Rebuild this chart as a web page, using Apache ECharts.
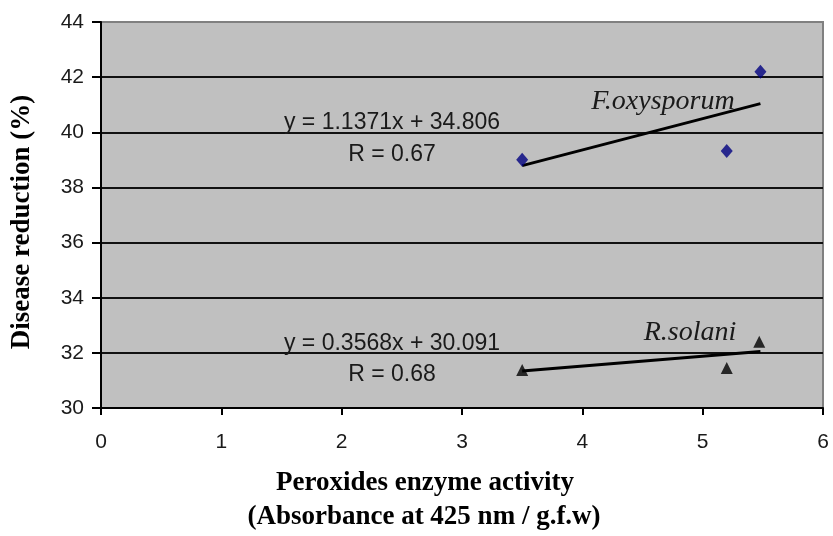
<!DOCTYPE html>
<html>
<head>
<meta charset="utf-8">
<script src="https://cdn.jsdelivr.net/npm/echarts@6/dist/echarts.min.js"></script>
<style>html,body{margin:0;padding:0;background:#fff}#c{width:833px;height:536px}</style>
</head>
<body>
<div id="c"></div>
<script>
// Data
const foxX = [3.5, 5.2, 5.48];
const foxY = [39.0, 39.32, 42.2];
const rsolX = [3.5, 5.2, 5.47];
const rsolY = [31.38, 31.45, 32.4];
// trend line endpoints (from equations y = 1.1371x + 34.806 and y = 0.3568x + 30.091)
const foxTrendX = [3.5, 5.48];
const foxTrendY = [38.79, 41.04];
const rsolTrendX = [3.5, 5.48];
const rsolTrendY = [31.34, 32.05];
const xTicks = [0, 1, 2, 3, 4, 5, 6];
const yTicks = [30, 32, 34, 36, 38, 40, 42, 44];
const eqFox = 'y = 1.1371x + 34.806';
const rFox = 'R = 0.67';
const eqRsol = 'y = 0.3568x + 30.091';
const rRsol = 'R = 0.68';
const nameFox = 'F.oxysporum';
const nameRsol = 'R.solani';
const xTitle1 = 'Peroxides enzyme activity';
const xTitle2 = '(Absorbance at 425 nm / g.f.w)';
const yTitle = 'Disease reduction (%)';

const zip = (a, b) => a.map((v, i) => [v, b[i]]);
const chart = echarts.init(document.getElementById('c'), null, {renderer: 'canvas'});
const sans = 'Liberation Sans, Arial, sans-serif';
const serif = 'Liberation Serif, Times New Roman, serif';
const txtStyle = (t, x, y, size, extra) => ({
  type: 'text', x: x, y: y, z: 100,
  style: Object.assign({text: t, fontFamily: sans, fontSize: size, fill: '#1a1a1a', textAlign: 'center', textVerticalAlign: 'middle'}, extra || {})
});

chart.setOption({
  animation: false,
  grid: {left: 101, right: 10, top: 22, bottom: 128, show: true, backgroundColor: '#c0c0c0', borderColor: '#808080', borderWidth: 2},
  xAxis: {
    type: 'value', min: xTicks[0], max: xTicks[xTicks.length - 1], interval: 1,
    axisLine: {show: true, onZero: false, lineStyle: {color: '#000', width: 2}},
    axisTick: {show: true, length: 7, lineStyle: {color: '#000', width: 2}},
    axisLabel: {margin: 24, fontFamily: sans, fontSize: 21, color: '#1a1a1a'},
    splitLine: {show: false}
  },
  yAxis: {
    type: 'value', min: yTicks[0], max: yTicks[yTicks.length - 1], interval: 2,
    axisLine: {show: true, onZero: false, lineStyle: {color: '#000', width: 2}},
    axisTick: {show: true, length: 9, lineStyle: {color: '#000', width: 2}},
    axisLabel: {margin: 17, fontFamily: sans, fontSize: 21, color: '#1a1a1a'},
    splitLine: {show: true, showMaxLine: false, lineStyle: {color: '#111', width: 2}}
  },
  series: [
    {type: 'line', data: zip(foxTrendX, foxTrendY), symbol: 'none', lineStyle: {color: '#000', width: 3}, z: 3},
    {type: 'line', data: zip(rsolTrendX, rsolTrendY), symbol: 'none', lineStyle: {color: '#000', width: 3}, z: 3},
    {type: 'scatter', data: zip(foxX, foxY), symbol: 'diamond', symbolSize: [12, 14], itemStyle: {color: '#000080'}, z: 4},
    {type: 'scatter', data: zip(rsolX, rsolY), symbol: 'triangle', symbolSize: [12, 12], itemStyle: {color: '#000'}, z: 4}
  ],
  graphic: [
    txtStyle(eqFox, 392, 123, 23),
    txtStyle(rFox, 392, 155, 23),
    txtStyle(eqRsol, 392, 344, 23),
    txtStyle(rRsol, 392, 375, 23),
    txtStyle(nameFox, 663, 102, 28, {fontFamily: serif, fontStyle: 'italic'}),
    txtStyle(nameRsol, 690, 333, 28, {fontFamily: serif, fontStyle: 'italic'}),
    txtStyle(xTitle1, 425, 483, 27, {fontFamily: serif, fontWeight: 'bold', fill: '#000'}),
    txtStyle(xTitle2, 424, 517, 27, {fontFamily: serif, fontWeight: 'bold', fill: '#000'}),
    {type: 'text', x: 22, y: 222, rotation: Math.PI / 2, z: 100,
     style: {text: yTitle, fontFamily: serif, fontSize: 27, fontWeight: 'bold', fill: '#000', textAlign: 'center', textVerticalAlign: 'middle'}}
  ]
});
</script>
</body>
</html>
